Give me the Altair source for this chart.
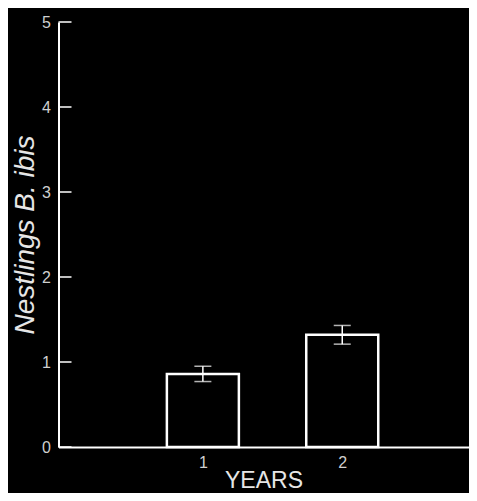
import altair as alt
import pandas as pd

years = [1, 2]
means = [0.86, 1.32]
errs = [0.09, 0.11]
y_ticks = [0, 1, 2, 3, 4, 5]

df = pd.DataFrame({
    "year": years,
    "mean": means,
    "lo": [m - e for m, e in zip(means, errs)],
    "hi": [m + e for m, e in zip(means, errs)],
})
ticks_df = pd.DataFrame({"v": y_ticks})

FONT = "Liberation Sans"
LBL = "#cfcfcf"

xscale = alt.Scale(domain=[0, 2.87], nice=False, zero=False)
yscale = alt.Scale(domain=[0, 5], nice=False)

xaxis = alt.Axis(values=years, format="d", ticks=False, grid=False, domainColor="white",
                 domainWidth=2, labelColor=LBL, labelFont=FONT, labelFontSize=16,
                 labelPadding=7, title="YEARS", titleColor="#e6e6e6",
                 titleFont=FONT, titleFontSize=23, titleFontWeight="normal",
                 titleBaseline="alphabetic", titleY=40)
yaxis = alt.Axis(values=y_ticks, format="d", ticks=False, grid=False, domainColor="white",
                 domainWidth=2, labelColor=LBL, labelFont=FONT, labelFontSize=16,
                 labelPadding=8, title="Nestlings B. ibis", titleColor="#e6e6e6",
                 titleFont=FONT, titleFontSize=28, titleFontStyle="italic",
                 titleFontWeight="normal", titlePadding=2)

bars = alt.Chart(df).mark_bar(size=72, fill="black", stroke="white", strokeWidth=2.5).encode(
    x=alt.X("year:Q", scale=xscale, axis=xaxis),
    y=alt.Y("mean:Q", scale=yscale, axis=yaxis),
)

rule = alt.Chart(df).mark_rule(color="white", strokeWidth=1.5).encode(
    x="year:Q", y="lo:Q", y2="hi:Q"
)
cap_hi = alt.Chart(df).mark_tick(orient="horizontal", size=17, thickness=1.5, color="white").encode(
    x="year:Q", y="hi:Q"
)
cap_lo = alt.Chart(df).mark_tick(orient="horizontal", size=17, thickness=1.5, color="white").encode(
    x="year:Q", y="lo:Q"
)

yticks = alt.Chart(ticks_df).mark_rule(color="white", strokeWidth=1.5).encode(
    y="v:Q", x=alt.value(0), x2=alt.value(13)
)

chart = alt.layer(bars, rule, cap_hi, cap_lo, yticks).properties(
    width=410, height=425, background="black",
    autosize=alt.AutoSizeParams(type="none"),
    padding={"left": 50.5, "top": 14, "right": 0.5, "bottom": 46},
).configure_view(stroke=None)

chart.save("out.html", embed_options={"renderer": "svg", "actions": False})
